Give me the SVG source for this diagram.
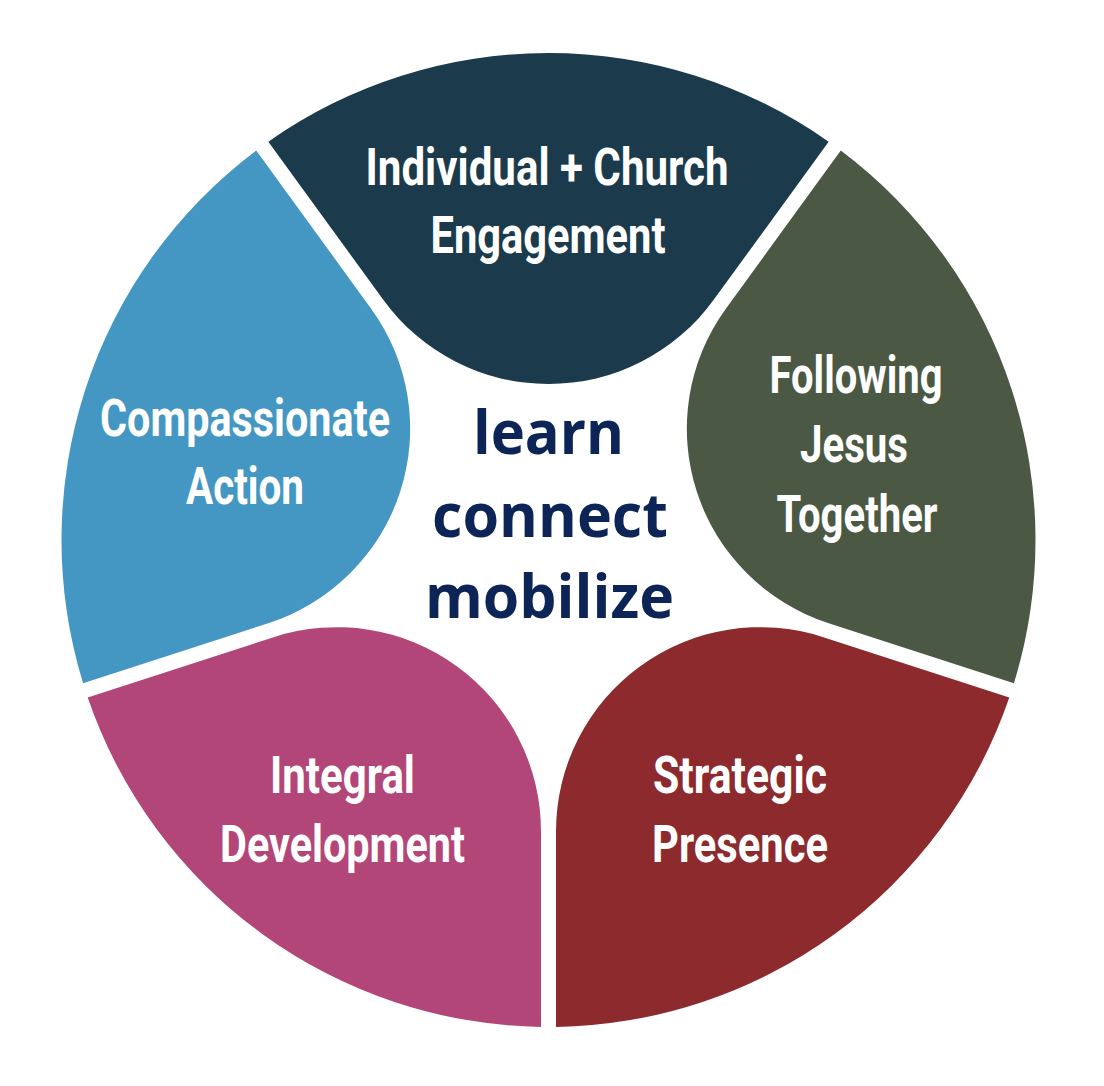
<svg xmlns="http://www.w3.org/2000/svg" xmlns:xlink="http://www.w3.org/1999/xlink" width="1104" height="1086" viewBox="0 0 1104 1086">
  <style>
    .lbl { font-family: "Roboto", "Liberation Sans", "DejaVu Sans", sans-serif; font-weight: 700; font-size: 52px; fill: #ffffff; text-anchor: middle; }
    .core { font-family: "Open Sans", "Noto Sans", "Liberation Sans", sans-serif; font-weight: 700; font-size: 60px; fill: #0c2456; text-anchor: middle; }
  </style>
  <defs>
    <path id="petal" d="M -280.15 -398.35 A 487 487 0 0 1 280.15 -398.35 L 165.21 -240.16 A 204.2 204.2 0 0 1 -165.21 -240.16 Z"/>
  </defs>
  <rect x="0" y="0" width="1104" height="1086" fill="#ffffff"/>

  <g id="connectors"/>

  <g id="node-individual-church-engagement">
    <use href="#petal" xlink:href="#petal" fill="#1b3a4b" transform="translate(548.5,540) rotate(0)"/>
    <text class="lbl" x="547" y="185" textLength="363" lengthAdjust="spacingAndGlyphs">Individual + Church</text>
    <text class="lbl" x="548" y="253" textLength="235" lengthAdjust="spacingAndGlyphs">Engagement</text>
  </g>

  <g id="node-following-jesus-together">
    <use href="#petal" xlink:href="#petal" fill="#4b5843" transform="translate(548.5,540) rotate(72)"/>
    <text class="lbl" x="856" y="393" textLength="173" lengthAdjust="spacingAndGlyphs">Following</text>
    <text class="lbl" x="854" y="462" textLength="108" lengthAdjust="spacingAndGlyphs">Jesus</text>
    <text class="lbl" x="857" y="532" textLength="161" lengthAdjust="spacingAndGlyphs">Together</text>
  </g>

  <g id="node-strategic-presence">
    <use href="#petal" xlink:href="#petal" fill="#8c2a2d" transform="translate(548.5,540) rotate(144)"/>
    <text class="lbl" x="740" y="793" textLength="174" lengthAdjust="spacingAndGlyphs">Strategic</text>
    <text class="lbl" x="740" y="862" textLength="176" lengthAdjust="spacingAndGlyphs">Presence</text>
  </g>

  <g id="node-integral-development">
    <use href="#petal" xlink:href="#petal" fill="#b34678" transform="translate(548.5,540) rotate(216)"/>
    <text class="lbl" x="342.5" y="793" textLength="145" lengthAdjust="spacingAndGlyphs">Integral</text>
    <text class="lbl" x="342.5" y="862" textLength="245" lengthAdjust="spacingAndGlyphs">Development</text>
  </g>

  <g id="node-compassionate-action">
    <use href="#petal" xlink:href="#petal" fill="#4597c3" transform="translate(548.5,540) rotate(288)"/>
    <text class="lbl" x="245" y="436" textLength="290" lengthAdjust="spacingAndGlyphs">Compassionate</text>
    <text class="lbl" x="245" y="504" textLength="118" lengthAdjust="spacingAndGlyphs">Action</text>
  </g>

  <g id="node-center">
    <text class="core" x="548.5" y="454" textLength="151" lengthAdjust="spacingAndGlyphs">learn</text>
    <text class="core" x="550" y="537" textLength="236" lengthAdjust="spacingAndGlyphs">connect</text>
    <text class="core" x="549.5" y="618" textLength="249" lengthAdjust="spacingAndGlyphs">mobilize</text>
  </g>
</svg>
